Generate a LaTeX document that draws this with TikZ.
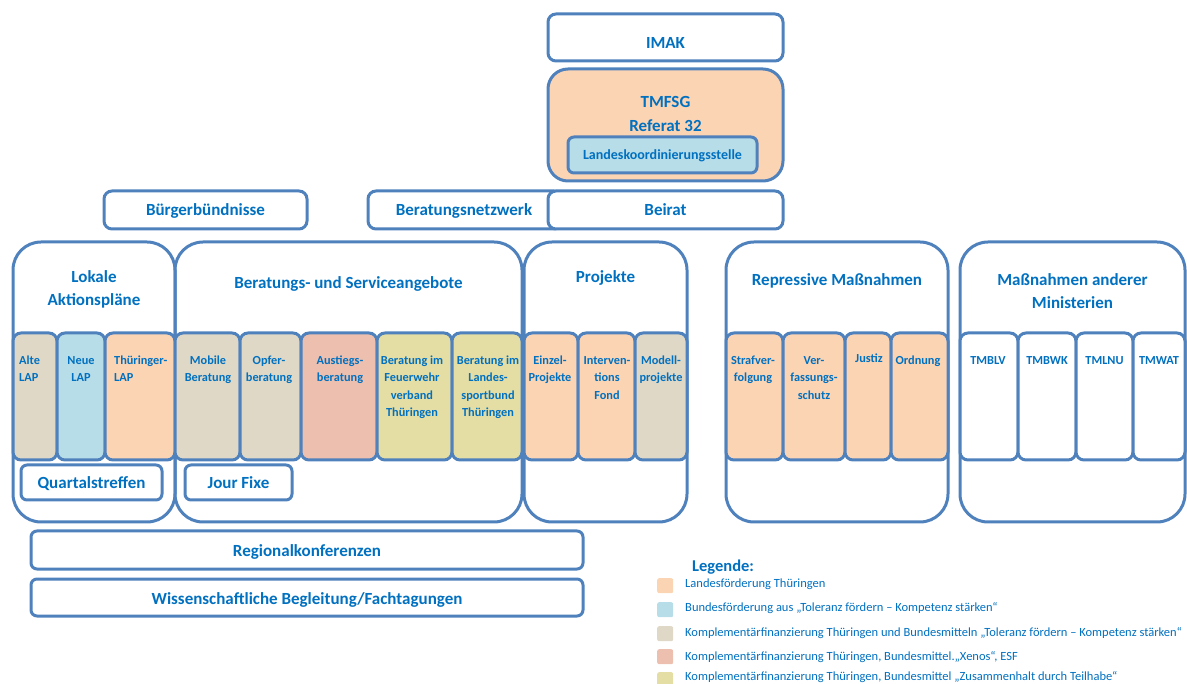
\documentclass[tikz,border=0pt]{standalone}
\usepackage{fontspec}
\setmainfont{Carlito}
\definecolor{bdr}{HTML}{4F81BD}
\definecolor{tx}{HTML}{0070C0}
\definecolor{cor}{HTML}{FBD4B4}
\definecolor{clb}{HTML}{B7DDE8}
\definecolor{ctan}{HTML}{DFD8C6}
\definecolor{csal}{HTML}{EDBFAE}
\definecolor{cyel}{HTML}{E4DDA4}
\newcommand\bx[7]{\node[boxbase,#6,minimum width={(#4)-(#2)},minimum height={(#5)-(#3)}] (#1) at ({((#2)+(#4))/2},{((#3)+(#5))/2}) {#7};}
\newcommand\fsA{\rule{0pt}{11pt}}
\newcommand\fsB{\rule{0pt}{14pt}}
\tikzset{
  boxbase/.style={draw=bdr, line width=3pt, inner sep=0pt, outer sep=0pt},
  big/.style={rounded corners=28pt},
  small/.style={rounded corners=8pt},
  cell/.style={rounded corners=8pt},
  hd/.style={text=tx, font=\bfseries\fontsize{17}{23}\selectfont, inner sep=0pt, align=center},
  intext/.style={text=tx, font=\bfseries\fontsize{12.3}{17.6}\selectfont, inner sep=0pt, align=center, anchor=north},
  legtext/.style={text=tx, font=\fontsize{12.5}{14}\selectfont, inner sep=0pt, anchor=base west},
  legbox/.style={rounded corners=2pt, inner sep=0pt, minimum width=16pt, minimum height=15pt, anchor=north west}
}
\begin{document}
\begin{tikzpicture}[x=1pt,y=-1pt]
\useasboundingbox (0,0) rectangle (1187,684);
% top
\bx{imak}{548}{14}{783}{61}{small,fill=white}{}
\node[hd,anchor=base] (imakT) at (665.5,49) {IMAK};
\bx{tmfsg}{548}{69}{783}{181}{rounded corners=20pt,fill=cor}{}
\node[hd,anchor=base] (tmfsgT) at (665.5,108) {TMFSG};
\node[hd,anchor=base] (refT) at (665.5,132) {Referat 32};
\bx{lks}{568}{137}{757}{173}{rounded corners=6pt,fill=clb}{}
\node[anchor=base, inner sep=0pt, text=tx, font=\bfseries\fontsize{14}{16}\selectfont] (lksT) at (662.5,159.5) {Landeskoordinierungsstelle};
\bx{netz}{368}{191}{562}{229}{small,fill=white}{}
\node[hd,anchor=base] (netzT) at (464,216) {Beratungsnetzwerk};
\bx{beirat}{548}{191}{783}{229}{small,fill=white}{}
\node[hd,anchor=base] (beiratT) at (665.5,216) {Beirat};
\bx{buerger}{104}{191}{307}{229}{small,fill=white}{}
\node[hd,anchor=base] (buergerT) at (205.5,216) {Bürgerbündnisse};
% big boxes
\bx{lap}{13}{242}{175}{522}{big}{}
\bx{bsa}{175}{242}{522}{522}{big}{}
\bx{proj}{524}{242}{687}{522}{big}{}
\bx{rep}{726}{242}{948}{522}{big}{}
\bx{mina}{960}{242}{1185}{522}{big}{}
\node[hd,anchor=north] (lapT) at (94,268.5) {\fsB Lokale\\Aktionspläne};
\node[hd,anchor=base] (bsaT) at (348.5,289) {Beratungs- und Serviceangebote};
\node[hd,anchor=base] (projT) at (605.5,282.5) {Projekte};
\node[hd,anchor=base] (repT) at (837,285.5) {Repressive Maßnahmen};
\node[hd,anchor=north] (minaT) at (1072.5,271.5) {\fsB Maßnahmen anderer\\Ministerien};
% inner cells
\bx{alte}{13}{333}{57}{460}{cell,fill=ctan}{}
\bx{neue}{57}{333}{105}{460}{cell,fill=clb}{}
\bx{thlap}{105}{333}{175}{460}{cell,fill=cor}{}
\bx{mobile}{175}{333}{240}{460}{cell,fill=ctan}{}
\bx{opfer}{240}{333}{301}{460}{cell,fill=ctan}{}
\bx{ausst}{301}{333}{377}{460}{cell,fill=csal}{}
\bx{feuer}{377}{333}{452}{460}{cell,fill=cyel}{}
\bx{sport}{452}{333}{522}{460}{cell,fill=cyel}{}
\bx{einzel}{524}{333}{578}{460}{cell,fill=cor}{}
\bx{interv}{578}{333}{635}{460}{cell,fill=cor}{}
\bx{modell}{635}{333}{687}{460}{cell,fill=ctan}{}
\bx{straf}{726}{333}{783}{460}{cell,fill=cor}{}
\bx{verf}{783}{333}{845}{460}{cell,fill=cor}{}
\bx{justiz}{845}{333}{891}{460}{cell,fill=cor}{}
\bx{ordn}{891}{333}{948}{460}{cell,fill=cor}{}
\bx{tmblv}{960}{333}{1018}{460}{cell,fill=white}{}
\bx{tmbwk}{1018}{333}{1076}{460}{cell,fill=white}{}
\bx{tmlnu}{1076}{333}{1133}{460}{cell,fill=white}{}
\bx{tmwat}{1133}{333}{1185}{460}{cell,fill=white}{}
\node[intext,anchor=north west,align=left] (alteT) at (19,353) {\fsA Alte\\LAP};
\node[intext] (neueT) at (81,353) {\fsA Neue\\LAP};
\node[intext,anchor=north west,align=left] (thlapT) at (114,353) {\fsA Thüringer-\\LAP};
\node[intext] (mobileT) at (208,353) {\fsA Mobile\\Beratung};
\node[intext] (opferT) at (269,353) {\fsA Opfer-\\beratung};
\node[intext] (ausstT) at (340,353) {\fsA Austiegs-\\beratung};
\node[intext] (feuerT) at (412,353) {\fsA Beratung im\\Feuerwehr\\verband\\Thüringen};
\node[intext] (sportT) at (488,353) {\fsA Beratung im\\Landes-\\sportbund\\Thüringen};
\node[intext] (einzelT) at (550,353) {\fsA Einzel-\\Projekte};
\node[intext] (intervT) at (607,353) {\fsA Interven-\\tions\\Fond};
\node[intext] (modellT) at (661,353) {\fsA Modell-\\projekte};
\node[intext] (strafT) at (753,353) {\fsA Strafver-\\folgung};
\node[intext] (verfT) at (814,353) {\fsA Ver-\\fassungs-\\schutz};
\node[intext] (justizT) at (869,351) {\fsA Justiz};
\node[intext] (ordnT) at (918,353) {\fsA Ordnung};
\node[intext] (tmblvT) at (988,353) {\fsA TMBLV};
\node[intext] (tmbwkT) at (1047,353) {\fsA TMBWK};
\node[intext] (tmlnuT) at (1104.5,353) {\fsA TMLNU};
\node[intext] (tmwatT) at (1159,353) {\fsA TMWAT};
% lower boxes
\bx{quart}{21}{465}{162}{500}{rounded corners=6pt,fill=white}{}
\node[hd,anchor=base] (quartT) at (91.5,488.5) {Quartalstreffen};
\bx{jour}{185}{465}{292}{500}{rounded corners=6pt,fill=white}{}
\node[hd,anchor=base] (jourT) at (238.5,488.5) {Jour Fixe};
\bx{reg}{31}{531}{583}{569}{rounded corners=6pt,fill=white}{}
\node[hd,anchor=base] (regT) at (307,556) {Regionalkonferenzen};
\bx{wiss}{31}{579}{583}{616}{rounded corners=6pt,fill=white}{}
\node[hd,anchor=base] (wissT) at (307,604) {Wissenschaftliche Begleitung/Fachtagungen};
% legend
\node[anchor=base west, inner sep=0pt, text=tx, font=\bfseries\fontsize{16.5}{18}\selectfont] (legT) at (692,571) {Legende:};
\node[legbox,fill=cor] (lg1) at (657,578) {};
\node[legbox,fill=clb] (lg2) at (657,602) {};
\node[legbox,fill=ctan] (lg3) at (657,626) {};
\node[legbox,fill=csal] (lg4) at (657,649) {};
\node[legbox,fill=cyel] (lg5) at (657,672) {};
\node[legtext] (lt1) at (685,587) {Landesförderung Thüringen};
\node[legtext] (lt2) at (685,611.5) {Bundesförderung aus „Toleranz fördern – Kompetenz stärken“};
\node[legtext] (lt3) at (685,636) {Komplementärfinanzierung Thüringen und Bundesmitteln „Toleranz fördern – Kompetenz stärken“};
\node[legtext] (lt4) at (685,660.5) {Komplementärfinanzierung Thüringen, Bundesmittel.„Xenos“, ESF};
\node[legtext] (lt5) at (685,680.5) {Komplementärfinanzierung Thüringen, Bundesmittel „Zusammenhalt durch Teilhabe“};
\end{tikzpicture}
\end{document}
